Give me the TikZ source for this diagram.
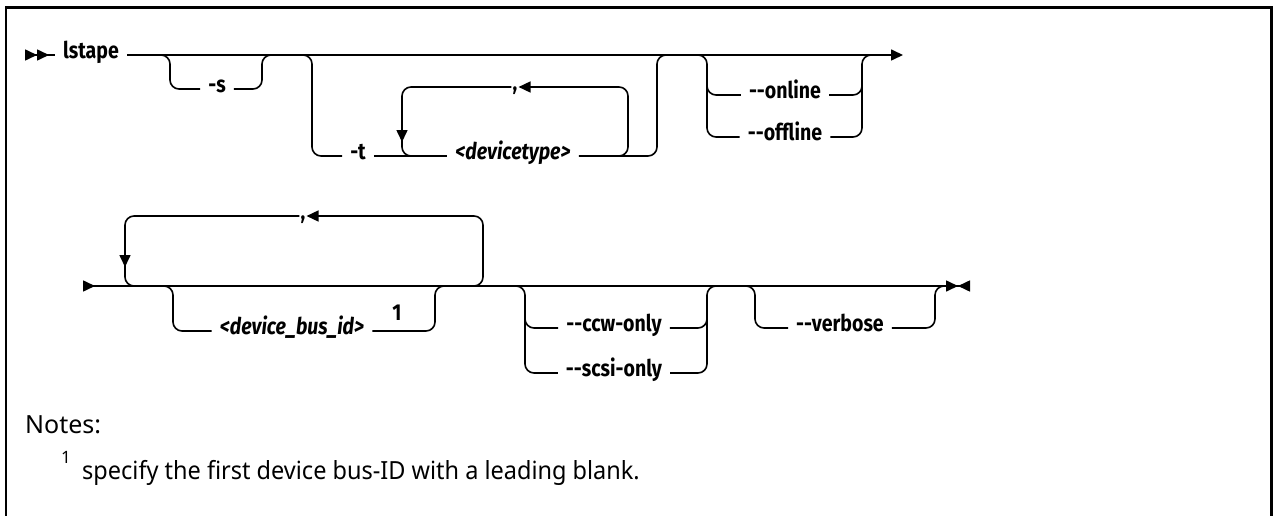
\documentclass[tikz,border=0pt]{standalone}
\usepackage{fontspec}
\setmainfont{Noto Sans}
\newfontfamily\railfont{Fira Sans}[FakeStretch=0.85]
\newfontfamily\notefont{Noto Sans}[FakeStretch=0.94]
\usetikzlibrary{arrows.meta}

\begin{document}
\begin{tikzpicture}[x=1pt, y=-1pt,
		rail/.style={line width=1.6pt, rounded corners=9pt},
		kw/.style={font=\railfont\bfseries\fontsize{23}{26}\selectfont, inner xsep=8pt, inner ysep=1pt, text height=1.5ex, text depth=.25ex},
		var/.style={kw, font=\railfont\bfseries\itshape\fontsize{23}{26}\selectfont},
		sep/.style={kw, inner xsep=1pt},
		note/.style={font=\notefont\fontsize{25}{30}\selectfont, anchor=west, inner sep=0pt},
		>={Triangle[length=12pt,width=11pt]}]
	\useasboundingbox (0,0) rectangle (1273,516);
	% Rahmen
	\draw[line width=2.5pt] (6,516) -- (6,7.5) -- (1271.5,7.5) -- (1271.5,516);
	% Zeile 1: Knoten
	\node[kw] (lstape) at (91,55) {lstape};
	\node[kw] (optS) at (217,89) {-s};
	\node[kw] (optT) at (358,156) {-t};
	\node[sep] (comma1) at (515,87) {,};
	\node[var] (dtype) at (513,156) {<devicetype>};
	\node[kw] (online) at (785,95) {--online};
	\node[kw] (offline) at (785,137) {--offline};
	% Zeile 1: Hauptlinie
	\draw[rail,>>-] (25,55) -- (lstape.west);
	\draw[rail,->] (lstape.east) -- (903,55);
	% -s
	\draw[rail] (optS.west) -| (170,55) -- ++(-10,0);
	\draw[rail] (optS.east) -| (262,55) -- ++(10,0);
	% -t mit Wiederholung
	\draw[rail] (optT.west) -| (312,55) -- ++(-10,0);
	\draw[rail] (optT.east) -- (dtype.west);
	\draw[rail] (dtype.east) -| (657,55) -- ++(10,0);
	\draw[rail,->] (612,156) -| (628,87) -- (comma1.east);
	\draw[rail,->] (comma1.west) -| (402,142);
	\draw[rail] (402,138) |- (418,156);
	% --online / --offline
	\draw[rail] (offline.west) -| (707,55) -- ++(-10,0);
	\draw[rail] (online.west) -| (707,75);
	\draw[rail] (offline.east) -| (862,55) -- ++(10,0);
	\draw[rail] (online.east) -| (862,75);
	% Zeile 2: Knoten
	\node[sep] (comma2) at (303,216) {,};
	\node[var] (busid) at (292,331) {<device\_bus\_id>};
	\node[kw, inner sep=0pt] (fnmark) at (397,317) {1};
	\node[kw] (ccw) at (614,328) {--ccw-only};
	\node[kw] (scsi) at (614,373) {--scsi-only};
	\node[kw] (verbose) at (840,328) {--verbose};
	% Zeile 2: Hauptlinie
	\draw[rail,>-><] (83,286) -- (970,286);
	% Wiederholung
	\draw[rail,->] (467,286) -| (483,216) -- (comma2.east);
	\draw[rail,->] (comma2.west) -| (125,267);
	\draw[rail] (125,262) |- (141,286);
	% <device_bus_id>
	\draw[rail] (busid.west) -| (173,286) -- ++(-10,0);
	\draw[rail] (busid.east) -| (435,286) -- ++(10,0);
	% --ccw-only / --scsi-only
	\draw[rail] (scsi.west) -| (525,286) -- ++(-10,0);
	\draw[rail] (ccw.west) -| (525,310);
	\draw[rail] (scsi.east) -| (707,286) -- ++(10,0);
	\draw[rail] (ccw.east) -| (707,310);
	% --verbose
	\draw[rail] (verbose.west) -| (755,286) -- ++(-10,0);
	\draw[rail] (verbose.east) -| (935,286) -- ++(10,0);
	% Anmerkungen
	\node[note, font=\fontsize{25}{30}\selectfont] (notes) at (25,425) {Notes:};
	\node[note, font=\fontsize{17}{20}\selectfont] (noteNum) at (61,457) {1};
	\node[note] (noteText) at (82,473) {specify the first device bus-ID with a leading blank.};
\end{tikzpicture}
\end{document}
